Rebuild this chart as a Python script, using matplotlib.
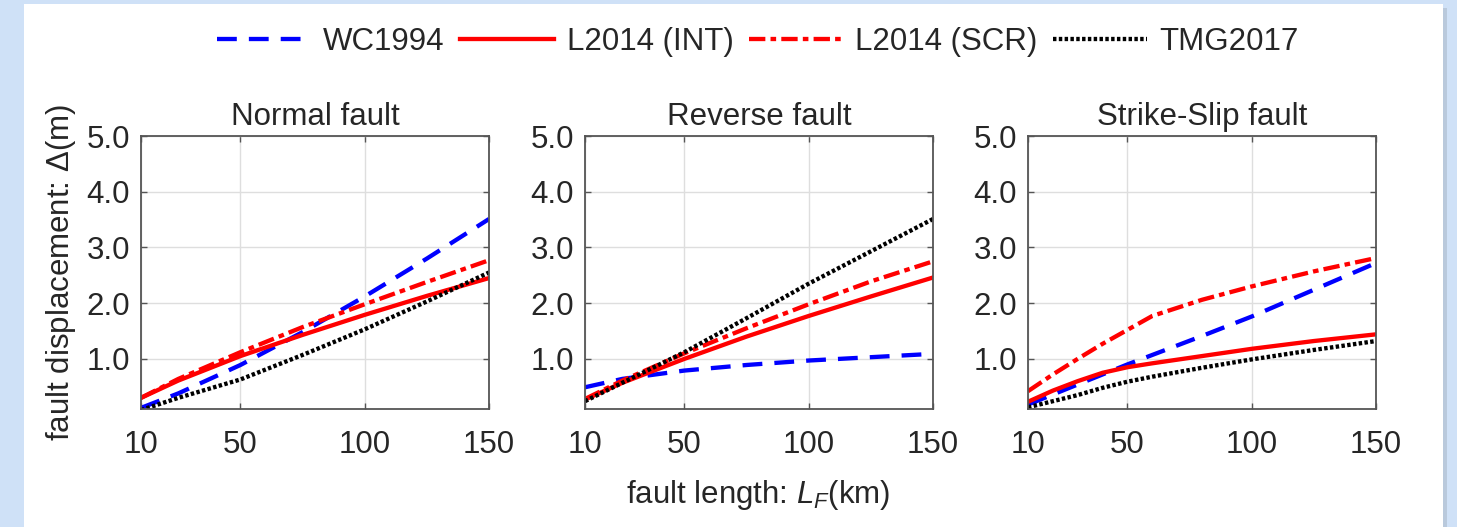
import matplotlib.pyplot as plt
from matplotlib.patches import Rectangle

plt.rcParams['font.family'] = ['Liberation Sans', 'DejaVu Sans']
plt.rcParams['mathtext.fontset'] = 'custom'
plt.rcParams['mathtext.rm'] = 'Liberation Sans'
plt.rcParams['mathtext.it'] = 'Liberation Sans:italic'

# fault length (km) at which values were read
x_pts = [10, 25, 50, 75, 100, 125, 150]
x_ss = [10, 20, 30, 40, 50, 60, 80, 100, 125, 150]

titles = ['Normal fault', 'Reverse fault', 'Strike-Slip fault']
series = ['WC1994', 'L2014 (INT)', 'L2014 (SCR)', 'TMG2017']

# Normal fault
n_wc = [0.12, 0.38, 0.89, 1.48, 2.12, 2.80, 3.51]
n_int = [0.30, 0.61, 1.05, 1.43, 1.79, 2.13, 2.45]
n_scr = [0.30, 0.64, 1.12, 1.57, 1.98, 2.38, 2.77]
n_tmg = [0.08, 0.30, 0.63, 1.07, 1.53, 2.03, 2.55]

# Reverse fault
r_wc = [0.49, 0.64, 0.79, 0.89, 0.97, 1.03, 1.09]
r_int = [0.27, 0.57, 1.00, 1.40, 1.77, 2.12, 2.46]
r_scr = [0.28, 0.61, 1.10, 1.55, 1.98, 2.39, 2.75]
r_tmg = [0.24, 0.57, 1.12, 1.73, 2.35, 2.93, 3.51]

# Strike-slip fault
s_wc = [0.18, 0.36, 0.54, 0.72, 0.90, 1.07, 1.41, 1.76, 2.24, 2.72]
s_int = [0.23, 0.43, 0.60, 0.75, 0.85, 0.92, 1.05, 1.18, 1.32, 1.44]
s_scr = [0.42, 0.72, 1.00, 1.27, 1.52, 1.77, 2.06, 2.30, 2.57, 2.81]
s_tmg = [0.13, 0.24, 0.35, 0.48, 0.59, 0.68, 0.84, 0.99, 1.16, 1.32]

panels = [
    (x_pts, [n_wc, n_int, n_scr, n_tmg]),
    (x_pts, [r_wc, r_int, r_scr, r_tmg]),
    (x_ss, [s_wc, s_int, s_scr, s_tmg]),
]

styles = [
    dict(color='#0000ff', linestyle=(0, (4.6, 2.8))),
    dict(color='#ff0000', linestyle='-'),
    dict(color='#ff0000', linestyle=(0, (3.8, 1.2, 1.3, 1.2))),
    dict(color='#000000', linestyle=(0, (0.8, 0.55))),
]

W, H = 1457, 527
fig = plt.figure(figsize=(W / 100, H / 100), dpi=100)
fig.patch.set_facecolor('#cfe1f7')
fig.patches.append(Rectangle((1443 / W, 0), 4 / W, 1 - 8 / H, transform=fig.transFigure,
                             facecolor='#b9c9dc', edgecolor='none', zorder=-10))
fig.patches.append(Rectangle((24 / W, 0), (1443 - 24) / W, 1 - 4 / H, transform=fig.transFigure,
                             facecolor='white', edgecolor='none', zorder=-10))

lefts = [141, 585, 1028]
width = 348
top, bottom = 136, 409
txt = '#262626'
fs = 22.5

handles = []
for i, (xs, ys_list) in enumerate(panels):
    ax = fig.add_axes([lefts[i] / W, 1 - bottom / H, width / W, (bottom - top) / H])
    for ys, st in zip(ys_list, styles):
        ln, = ax.plot(xs, ys, lw=3.1, **st)
        if i == 0:
            handles.append(ln)
    ax.set_xlim(10, 150)
    ax.set_ylim(0.1, 5.0)
    ax.set_xticks([10, 50, 100, 150])
    ax.set_yticks([1, 2, 3, 4, 5])
    ax.set_yticklabels(['1.0', '2.0', '3.0', '4.0', '5.0'])
    ax.grid(True, color='#dedede', lw=1.0)
    ax.tick_params(direction='in', length=4, width=1, colors='#555555', labelcolor=txt,
                   labelsize=fs, top=True, right=True)
    ax.tick_params(axis='x', pad=15)
    ax.tick_params(axis='y', pad=8)
    for sp in ax.spines.values():
        sp.set_color('#555555')
        sp.set_linewidth(1.3)
    ax.set_title(titles[i], fontsize=fs, color=txt, pad=8)
    if i == 0:
        ax.set_ylabel('fault displacement: $\\Delta$(m)', fontsize=fs, color=txt, labelpad=6)

fig.text(758 / W, 1 - 495 / H, 'fault length: $L_F$(km)', fontsize=fs, color=txt,
         ha='center', va='center')

fig.legend(handles, series, loc='center', bbox_to_anchor=(758 / W, 1 - 42 / H), ncol=4,
           frameon=False, fontsize=fs, handlelength=3.0, handletextpad=0.4,
           columnspacing=0.5, labelcolor=txt)

fig.savefig('out.png', dpi=100, facecolor=fig.get_facecolor())
